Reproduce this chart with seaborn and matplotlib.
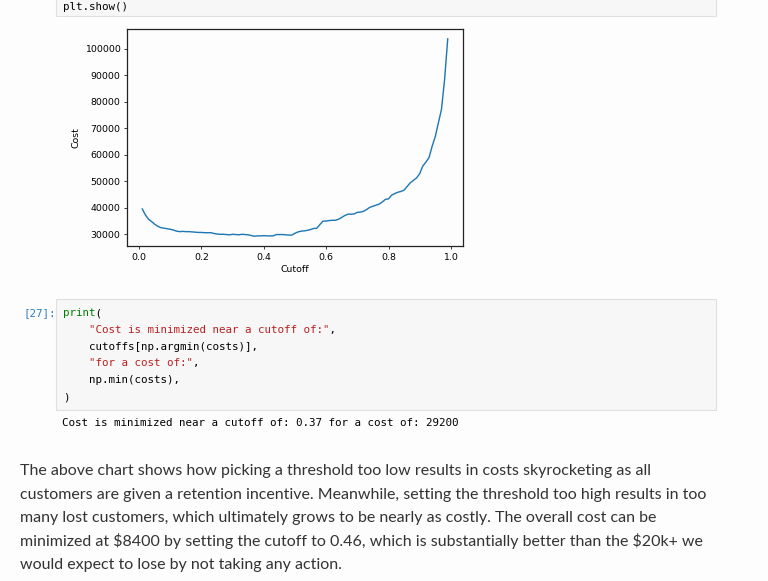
import numpy as np
import matplotlib
matplotlib.use('Agg')
import matplotlib.pyplot as plt
import seaborn as sns
from matplotlib.patches import Rectangle

# cutoff values and the cost
cutoffs = np.round(np.arange(1, 100) / 100, 2)
costs = [
    39500, 37200, 35600, 34700, 33700, 32900, 32400, 32200, 32000, 31800,
    31500, 31100, 30900, 31000, 30900, 30900, 30800, 30700, 30600, 30600,
    30500, 30500, 30500, 30200, 30000, 29900, 29900, 29800, 29700, 29900,
    29800, 29700, 29900, 29800, 29700, 29400, 29200, 29300, 29300, 29400,
    29300, 29300, 29300, 29800, 29800, 29800, 29700, 29600, 29600, 30300,
    30800, 31100, 31200, 31400, 31700, 32100, 32200, 33600, 34900, 34900,
    35100, 35200, 35200, 35600, 36300, 37000, 37500, 37500, 37600, 38200,
    38300, 38600, 39300, 40100, 40500, 40900, 41300, 42100, 43100, 43300,
    44700, 45300, 45800, 46100, 46600, 48000, 49400, 50300, 51200, 52800,
    55700, 57200, 58900, 63200, 66800, 72000, 77200, 88500, 103800,
]

code_lines = [
    [('print', '#008000'), ('(', '#000000')],
    [('    ', '#000000'), ('"Cost is minimized near a cutoff of:"', '#BA2121'), (',', '#000000')],
    [('    cutoffs[np.argmin(costs)],', '#000000')],
    [('    ', '#000000'), ('"for a cost of:"', '#BA2121'), (',', '#000000')],
    [('    np.min(costs),', '#000000')],
    [(')', '#000000')],
]
output_line = 'Cost is minimized near a cutoff of: 0.37 for a cost of: 29200'
paragraph = [
    'The above chart shows how picking a threshold too low results in costs skyrocketing as all',
    'customers are given a retention incentive. Meanwhile, setting the threshold too high results in too',
    'many lost customers, which ultimately grows to be nearly as costly. The overall cost can be',
    'minimized at $8400 by setting the cutoff to 0.46, which is substantially better than the $20k+ we',
    'would expect to lose by not taking any action.',
]

plt.rcParams['text.parse_math'] = False

W, H = 768, 581
s = 0.677  # the chart was shrunk in the notebook

fig = plt.figure(figsize=(W / 100, H / 100), dpi=100, facecolor='#fdfdfd')


def fx(x):
    return x / W


def fy(y):
    return 1 - y / H


def box(x0, y0, x1, y1):
    fig.patches.append(Rectangle((fx(x0), fy(y1)), fx(x1 - x0), (y1 - y0) / H,
                                 transform=fig.transFigure, facecolor='#f7f7f7',
                                 edgecolor='#e0e0e0', lw=0.8, zorder=0))


mono = ['DejaVu Sans Mono']
code_fs = 7.85

# previous cell, cut off at the top
box(56, -5, 716, 16)
fig.text(fx(63), fy(12), 'plt.show()', family=mono, fontsize=code_fs,
         color='#000000', va='bottom')

# the chart
ax = fig.add_axes([fx(127), fy(246), fx(463 - 127), (246 - 29) / H])
ax.set_facecolor('#fdfdfd')
sns.lineplot(x=cutoffs, y=costs, ax=ax, color='#1f77b4', lw=1.5 * s)
ax.set_xlabel('Cutoff', fontsize=10 * s, labelpad=4 * s)
ax.set_ylabel('Cost', fontsize=10 * s, labelpad=4 * s)
ax.tick_params(labelsize=10 * s, length=3.5 * s, width=0.8 * s, pad=3.5 * s)
for sp in ax.spines.values():
    sp.set_linewidth(0.9)
    sp.set_color('#222222')

# print cell
box(56, 299, 716, 410)
fig.text(fx(56), fy(313), '[27]:', family=mono, fontsize=code_fs, color='#307FC1',
         ha='right', va='center')
for i, parts in enumerate(code_lines):
    # one text per colour, other characters blanked, so the columns line up
    for colour in {c for _, c in parts}:
        txt = ''.join(t if c == colour else ' ' * len(t) for t, c in parts)
        fig.text(fx(63), fy(313 + i * 16.8), txt, family=mono,
                 fontsize=code_fs, color=colour, va='center')
fig.text(fx(62), fy(423), output_line, family=mono, fontsize=code_fs, color='#000000',
         va='center')

# markdown paragraph
for i, line in enumerate(paragraph):
    fig.text(fx(20), fy(471.5 + i * 23.3), line, family=['Lato', 'DejaVu Sans'],
             fontsize=11.5, color='#333333', va='center')

fig.savefig('out.png', dpi=100, facecolor=fig.get_facecolor())
